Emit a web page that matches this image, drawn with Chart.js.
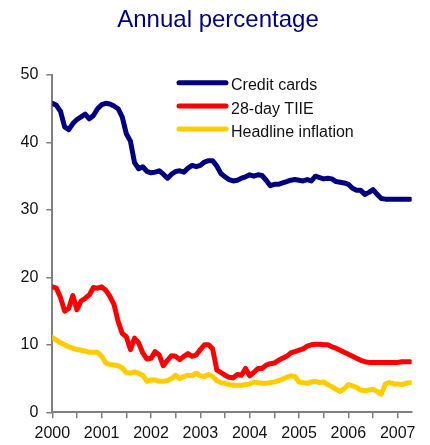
<!DOCTYPE html>
<html>
<head>
<meta charset="utf-8">
<script src="https://cdn.jsdelivr.net/npm/chart.js@4.4.1/dist/chart.umd.min.js"></script>
<style>
  html, body { margin: 0; padding: 0; background: #ffffff; }
  #wrap { width: 430px; height: 445px; position: relative; }
</style>
</head>
<body>
<div id="wrap"><canvas id="c" width="430" height="445"></canvas></div>
<script>
// ---- Data (monthly, Jan 2000 .. Apr 2007) ----
const years = ['2000', '2001', '2002', '2003', '2004', '2005', '2006', '2007'];
const seriesNames = ['Credit cards', '28-day TIIE', 'Headline inflation'];
const titleText = 'Annual percentage';
const yTicks = [0, 10, 20, 30, 40, 50];

const creditCards = [
  45.8, 45.5, 44.6, 42.3, 41.9, 42.8, 43.4, 43.8, 44.2, 43.5, 44.0, 45.0,
  45.6, 45.8, 45.7, 45.4, 45.0, 43.8, 41.3, 40.2, 37.0, 36.1, 36.4, 35.7,
  35.5, 35.6, 35.8, 35.3, 34.7, 35.3, 35.7, 35.8, 35.6, 36.2, 36.6, 36.4,
  36.6, 37.1, 37.3, 37.3, 36.5, 35.4, 34.9, 34.5, 34.3, 34.4, 34.7, 34.9,
  35.2, 35.0, 35.2, 35.1, 34.4, 33.6, 33.8, 33.8, 34.0, 34.2, 34.4, 34.5,
  34.4, 34.3, 34.5, 34.3, 35.0, 34.8, 34.6, 34.7, 34.6, 34.2, 34.1, 34.0,
  33.8, 33.2, 32.9, 32.9, 32.3, 32.6, 33.0, 32.3, 31.7, 31.6, 31.6, 31.6,
  31.6, 31.6, 31.6, 31.6
];

const tiie28 = [
  18.6, 18.4, 17.0, 15.0, 15.4, 17.3, 15.2, 16.5, 16.9, 17.4, 18.5, 18.4,
  18.6, 18.1, 17.2, 16.0, 13.5, 11.7, 11.2, 9.3, 11.0, 10.3, 8.8, 7.9,
  8.0, 9.0, 8.5, 6.9, 7.7, 8.4, 8.3, 7.8, 8.3, 8.7, 8.3, 8.5,
  9.3, 10.0, 10.0, 9.4, 6.3, 5.9, 5.5, 5.2, 5.1, 5.6, 5.5, 6.5,
  5.4, 5.9, 6.5, 6.5, 7.0, 7.2, 7.3, 7.7, 8.0, 8.3, 8.8, 9.0,
  9.2, 9.4, 9.8, 10.0, 10.1, 10.1, 10.0, 10.0, 9.7, 9.5, 9.2, 8.9,
  8.6, 8.3, 8.0, 7.7, 7.5, 7.4, 7.4, 7.4, 7.4, 7.4, 7.4, 7.4,
  7.4, 7.5, 7.5, 7.5
];

const inflation = [
  11.1, 10.7, 10.3, 10.0, 9.7, 9.5, 9.3, 9.2, 9.1, 8.9, 8.9, 8.9,
  8.3, 7.3, 7.1, 7.0, 6.9, 6.6, 5.9, 5.8, 6.0, 5.8, 5.5, 4.6,
  4.8, 4.8, 4.6, 4.6, 4.7, 5.0, 5.5, 5.0, 5.3, 5.5, 5.4, 5.8,
  5.4, 5.3, 5.6, 5.3, 4.7, 4.4, 4.3, 4.1, 4.0, 4.0, 4.0, 4.1,
  4.2, 4.5, 4.4, 4.3, 4.3, 4.4, 4.5, 4.7, 4.9, 5.2, 5.4, 5.3,
  4.5, 4.4, 4.3, 4.5, 4.6, 4.4, 4.5, 4.1, 3.8, 3.4, 3.1, 3.5,
  4.1, 3.9, 3.7, 3.3, 3.2, 3.3, 3.4, 3.1, 2.7, 4.2, 4.4, 4.2,
  4.2, 4.1, 4.3, 4.4
];

// ---- Styling ----
const FONT = "'Liberation Sans', Arial, Helvetica, sans-serif";
const NAVY = '#000080';
const RED = '#ff0000';
const GOLD = '#ffcc00';
const AXIS = '#808080';

const toPoints = arr => arr.map((v, i) => ({ x: i, y: v }));

function lineDataset(label, values, color) {
  return {
    label: label,
    data: toPoints(values),
    borderColor: color,
    backgroundColor: color,
    borderWidth: 5,
    pointRadius: 0,
    pointHoverRadius: 0,
    tension: 0,
    fill: false,
    borderJoinStyle: 'round',
    borderCapStyle: 'round'
  };
}

// Title (drawn slightly right of the canvas centre, as in the reference)
const titlePlugin = {
  id: 'titlePlugin',
  afterDraw(chart) {
    const ctx = chart.ctx;
    ctx.save();
    ctx.fillStyle = NAVY;
    ctx.font = '24px ' + FONT;
    ctx.textAlign = 'center';
    ctx.textBaseline = 'middle';
    ctx.fillText(titleText, 218, 20.4);
    ctx.restore();
  }
};

// Custom legend drawn inside the plot area (top-right)
const insideLegend = {
  id: 'insideLegend',
  afterDraw(chart) {
    const ctx = chart.ctx;
    const x0 = 179, x1 = 226, textX = 231;
    const rows = [82.7, 105.9, 129.1];
    ctx.save();
    chart.data.datasets.forEach((ds, k) => {
      const y = rows[k];
      ctx.strokeStyle = ds.borderColor;
      ctx.lineWidth = 5;
      ctx.lineCap = 'round';
      ctx.beginPath();
      ctx.moveTo(x0, y);
      ctx.lineTo(x1, y);
      ctx.stroke();
      ctx.fillStyle = '#111111';
      ctx.font = '16px ' + FONT;
      ctx.textAlign = 'left';
      ctx.textBaseline = 'alphabetic';
      ctx.fillText(ds.label, textX, y + 7.6);
    });
    ctx.restore();
  }
};

const xTickValues = [];
for (let m = 0; m <= (years.length - 1) * 12; m += 6) xTickValues.push(m);

new Chart(document.getElementById('c'), {
  type: 'line',
  data: {
    datasets: [
      lineDataset(seriesNames[0], creditCards, NAVY),
      lineDataset(seriesNames[1], tiie28, RED),
      lineDataset(seriesNames[2], inflation, GOLD)
    ]
  },
  options: {
    responsive: false,
    animation: false,
    events: [],
    layout: { padding: { left: 0, right: 18.3, top: 75, bottom: 0 } },
    plugins: {
      legend: { display: false },
      tooltip: { enabled: false },
      title: { display: false }
    },
    scales: {
      x: {
        type: 'linear',
        min: 0,
        max: 87.4,
        afterBuildTicks: s => { s.ticks = xTickValues.map(v => ({ value: v })); },
        afterFit: s => { s.height = 32.7; },
        ticks: {
          autoSkip: false,
          maxRotation: 0,
          padding: 6,
          color: '#111111',
          font: { family: FONT, size: 16 },
          callback: v => (v % 12 === 0 ? years[v / 12] : '')
        },
        grid: { display: true, drawOnChartArea: false, drawTicks: true, tickLength: 6, color: AXIS, lineWidth: 1.5 },
        border: { display: true, color: AXIS, width: 2 }
      },
      y: {
        type: 'linear',
        min: 0,
        max: 50,
        afterBuildTicks: s => { s.ticks = yTicks.map(v => ({ value: v })); },
        afterFit: s => { s.width = 52.3; },
        ticks: {
          padding: 8,
          color: '#111111',
          font: { family: FONT, size: 16 }
        },
        grid: { display: true, drawOnChartArea: false, drawTicks: true, tickLength: 6, color: AXIS, lineWidth: 1.5 },
        border: { display: true, color: AXIS, width: 2 }
      }
    }
  },
  plugins: [insideLegend, titlePlugin]
});
</script>
</body>
</html>
